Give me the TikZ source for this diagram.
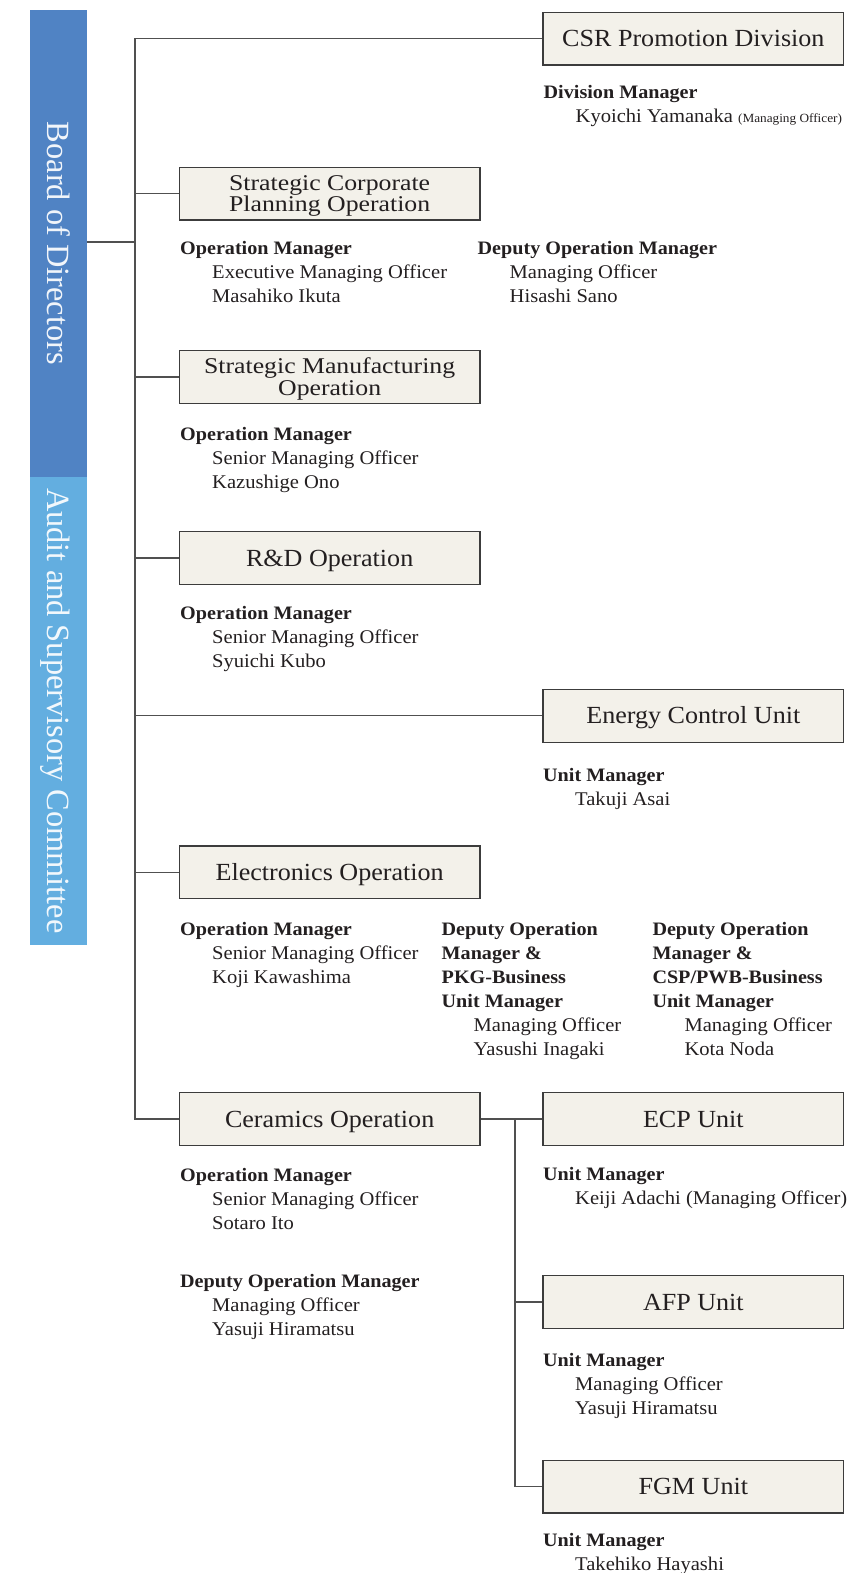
\documentclass[tikz,border=0pt]{standalone}
\usepackage{graphicx}
\usepackage{fontspec}
\setmainfont[FakeStretch=1.06]{Liberation Serif}
\newfontfamily\barfont{Liberation Serif}
\definecolor{bluedark}{HTML}{5083C4}
\definecolor{bluelight}{HTML}{63AEE0}
\definecolor{boxfill}{HTML}{F3F1EA}
\definecolor{boxline}{HTML}{3C3C3C}
\definecolor{connc}{HTML}{505050}
\definecolor{txtc}{HTML}{231F20}
\newcommand\myhd[1]{{\fontsize{19}{24}\selectfont\bfseries #1}}
\newcommand\myin{\hspace*{32pt}}
\newcommand\myblk[1]{\begin{tabular}[t]{@{}l@{}}#1\end{tabular}}
\newcommand\mytwo[2]{\vtop{\baselineskip=21.5pt\lineskiplimit=-100pt\halign{\hfil##\hfil\cr\scalebox{1.08}[1]{#1}\cr\scalebox{1.08}[1]{#2}\cr}}}
\tikzset{
  orgbox/.style={draw=boxline, fill=boxfill, line width=1.4pt, minimum width=300.7pt,
    minimum height=52.8pt, inner sep=0pt, text=txtc, font=\fontsize{24.6}{20}\selectfont,
    text height=16.3pt, text depth=0pt},
  twobox/.style={orgbox, font=\fontsize{22.5}{20}\selectfont, text height=14.9pt, text depth=21.5pt},
  blk/.style={anchor=base west, inner sep=0pt, text=txtc, font=\fontsize{19.4}{24}\selectfont},
  conn/.style={draw=connc, line width=1.3pt},
  bar/.style={rotate=-90, inner sep=0pt, text=white, text opacity=0.92,
    font=\barfont\fontsize{32.4}{36}\selectfont, text height=21pt, text depth=0pt, minimum height=57pt}
}
\begin{document}
\begin{tikzpicture}[x=1pt,y=-1pt]
\useasboundingbox (0,0) rectangle (849,1573);
\clip (0,0) rectangle (849,1573);

% side bars
\node[bar, fill=bluedark, minimum width=466.7pt] (board) at (58.2,243.35) {Board of Directors};
\node[bar, fill=bluelight, minimum width=468.3pt] (audit) at (58.2,710.85) {Audit and Supervisory Committee};

% boxes
\node[orgbox] (csr) at (693.35,38.65) {CSR Promotion Division};
\node[twobox] (scp) at (329.65,193.7) {\mytwo{Strategic Corporate}{Planning Operation}};
\node[twobox] (smo) at (329.65,377) {\mytwo{Strategic Manufacturing}{Operation}};
\node[orgbox] (rnd) at (329.65,558) {R\&D Operation};
\node[orgbox] (ecu) at (693.35,715.8) {Energy Control Unit};
\node[orgbox] (elo) at (329.65,872.35) {Electronics Operation};
\node[orgbox] (cer) at (329.65,1119) {Ceramics Operation};
\node[orgbox] (ecp) at (693.35,1119) {ECP Unit};
\node[orgbox] (afp) at (693.35,1302) {AFP Unit};
\node[orgbox] (fgm) at (693.35,1486.65) {FGM Unit};

% connectors
\coordinate (bj) at (135,242);
\coordinate (tx) at (135,0);
\coordinate (sx) at (515,0);
\draw[conn] (board.north |- bj) -- (bj);
\draw[conn] (csr.west) -- (csr.west -| tx) -- (cer.west -| tx) -- (cer.west);
\foreach \n in {scp,smo,rnd,ecu,elo} { \draw[conn] (\n.west -| tx) -- (\n.west); }
\draw[conn] (cer.east) -- (ecp.west);
\draw[conn] (ecp.west -| sx) -- (fgm.west -| sx) -- (fgm.west);
\draw[conn] (afp.west -| sx) -- (afp.west);

% text blocks
\node[blk] (csrm) at (543.5,98.5) {\myblk{\myhd{Division Manager}\\ \myin Kyoichi Yamanaka {\fontsize{12.5}{16}\selectfont (Managing Officer)}}};

\node[blk] (scpm) at (180,254) {\myblk{\myhd{Operation Manager}\\ \myin Executive Managing Officer\\ \myin Masahiko Ikuta}};
\node[blk] (scpd) at (477.5,254) {\myblk{\myhd{Deputy Operation Manager}\\ \myin Managing Officer\\ \myin Hisashi Sano}};

\node[blk] (smom) at (180,440.5) {\myblk{\myhd{Operation Manager}\\ \myin Senior Managing Officer\\ \myin Kazushige Ono}};

\node[blk] (rndm) at (180,619) {\myblk{\myhd{Operation Manager}\\ \myin Senior Managing Officer\\ \myin Syuichi Kubo}};

\node[blk] (ecum) at (543,781.7) {\myblk{\myhd{Unit Manager}\\ \myin Takuji Asai}};

\node[blk] (elom) at (180,935) {\myblk{\myhd{Operation Manager}\\ \myin Senior Managing Officer\\ \myin Koji Kawashima}};
\node[blk] (elod) at (441.5,935) {\myblk{\myhd{Deputy Operation}\\ \myhd{Manager \&}\\ \myhd{PKG-Business}\\ \myhd{Unit Manager}\\ \myin Managing Officer\\ \myin Yasushi Inagaki}};
\node[blk] (eloc) at (652.3,935) {\myblk{\myhd{Deputy Operation}\\ \myhd{Manager \&}\\ \myhd{CSP/PWB-Business}\\ \myhd{Unit Manager}\\ \myin Managing Officer\\ \myin Kota Noda}};

\node[blk] (cerm) at (180,1181.7) {\myblk{\myhd{Operation Manager}\\ \myin Senior Managing Officer\\ \myin Sotaro Ito}};
\node[blk] (cerd) at (180,1287.3) {\myblk{\myhd{Deputy Operation Manager}\\ \myin Managing Officer\\ \myin Yasuji Hiramatsu}};

\node[blk] (ecpm) at (543,1180) {\myblk{\myhd{Unit Manager}\\ \myin Keiji Adachi (Managing Officer)}};
\node[blk] (afpm) at (543,1366) {\myblk{\myhd{Unit Manager}\\ \myin Managing Officer\\ \myin Yasuji Hiramatsu}};
\node[blk] (fgmm) at (543,1546.7) {\myblk{\myhd{Unit Manager}\\ \myin Takehiko Hayashi}};
\end{tikzpicture}
\end{document}
